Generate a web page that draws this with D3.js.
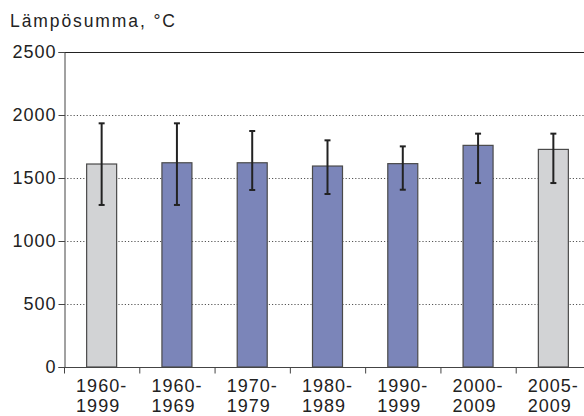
<!DOCTYPE html>
<html>
<head>
<meta charset="utf-8">
<script src="https://cdn.jsdelivr.net/npm/d3@7"></script>
<style>
  body { margin: 0; background: #fff; }
  text { font-family: "Liberation Sans", Arial, sans-serif; fill: #222; }
</style>
</head>
<body>
<div id="chart"></div>
<script>
// periods (two lines of label each)
var periodStart = ["1960-", "1960-", "1970-", "1980-", "1990-", "2000-", "2005-"];
var periodEnd = ["1999", "1969", "1979", "1989", "1999", "2009", "2009"];
var sums = [1611, 1621, 1621, 1595, 1614, 1759, 1727];
var errHigh = [1934, 1934, 1873, 1799, 1751, 1852, 1852];
var errLow = [1286, 1286, 1405, 1373, 1407, 1460, 1460];
var isGray = [true, false, false, false, false, false, true];
var yTicks = [0, 500, 1000, 1500, 2000, 2500];

var width = 584;
var height = 416;
var margin = { top: 52, right: -7, bottom: 49, left: 64 };

var cats = periodStart.map((d, i) => d + periodEnd[i]);
var data = cats.map(function (c, i) {
  return { cat: c, a: periodStart[i], b: periodEnd[i], v: sums[i], hi: errHigh[i], lo: errLow[i], gray: isGray[i] };
});

var x = d3.scaleBand().domain(cats).range([margin.left, width - margin.right]);
var y = d3.scaleLinear().domain([0, 2500]).range([height - margin.bottom, margin.top]);

var svg = d3.select("#chart").append("svg").attr("width", width).attr("height", height);

// title
svg.append("text").attr("x", 10).attr("y", 27)
  .style("font-size", "17.5px").style("letter-spacing", "1.9px")
  .text("Lämpösumma, °C");

// grid lines
svg.append("g")
  .selectAll("line")
  .data(yTicks.filter((t) => t > 0 && t < 2500))
  .join("line")
  .attr("x1", margin.left)
  .attr("x2", width)
  .attr("y1", (d) => Math.round(y(d)) + 0.5)
  .attr("y2", (d) => Math.round(y(d)) + 0.5)
  .attr("stroke", "#555")
  .attr("stroke-dasharray", "1.2,2");

// top frame line
svg.append("line")
  .attr("x1", margin.left).attr("x2", width)
  .attr("y1", Math.round(y(2500)) + 0.5).attr("y2", Math.round(y(2500)) + 0.5)
  .attr("stroke", "#222").attr("stroke-width", 1.2);

// bars
var bw = 30;
svg.append("g")
  .selectAll("rect")
  .data(data)
  .join("rect")
  .attr("x", (d) => x(d.cat) + x.bandwidth() / 2 - bw / 2)
  .attr("y", (d) => y(d.v))
  .attr("width", bw)
  .attr("height", (d) => y(0) - y(d.v))
  .attr("fill", (d) => (d.gray ? "#d2d3d5" : "#7b85b9"))
  .attr("stroke", "#4a4a4a")
  .attr("stroke-width", 1.2);

// error bars
var eb = svg.append("g").attr("stroke", "#222");
eb.selectAll("line.v")
  .data(data)
  .join("line")
  .attr("class", "v")
  .attr("x1", (d) => x(d.cat) + x.bandwidth() / 2)
  .attr("x2", (d) => x(d.cat) + x.bandwidth() / 2)
  .attr("y1", (d) => y(d.hi))
  .attr("y2", (d) => y(d.lo))
  .attr("stroke-width", 2);
["hi", "lo"].forEach(function (k) {
  eb.selectAll("line.c" + k)
    .data(data)
    .join("line")
    .attr("class", "c" + k)
    .attr("x1", (d) => x(d.cat) + x.bandwidth() / 2 - 3)
    .attr("x2", (d) => x(d.cat) + x.bandwidth() / 2 + 3)
    .attr("y1", (d) => y(d[k]))
    .attr("y2", (d) => y(d[k]))
    .attr("stroke-width", 2);
});

// y axis
function yAxis(g) {
  g.attr("transform", `translate(${margin.left + 0.5}, 0)`)
    .call(d3.axisLeft(y).tickValues(yTicks).tickFormat(d3.format("d")).tickSize(6).tickPadding(2))
    .call((g) => g.select(".domain").attr("stroke", "#444"))
    .call((g) => g.selectAll(".tick line").attr("stroke", "#444"))
    .call((g) => g.selectAll("text").style("font-size", "18px").style("letter-spacing", "1px").attr("fill", "#222"));
}
svg.append("g").attr("class", "yAxis").call(yAxis);

// x axis
var xa = svg.append("g").attr("transform", `translate(0, ${Math.round(y(0)) + 0.5})`);
xa.append("line").attr("x1", margin.left).attr("x2", width).attr("stroke", "#444");
xa.selectAll("line.tk")
  .data(cats)
  .join("line")
  .attr("class", "tk")
  .attr("x1", (d) => x(d) + 0.5)
  .attr("x2", (d) => x(d) + 0.5)
  .attr("y1", 0)
  .attr("y2", 6)
  .attr("stroke", "#444");

// labels, second line left aligned with first
var labels = svg.append("g")
  .selectAll("text")
  .data(data)
  .join("text")
  .style("font-size", "18px")
  .style("letter-spacing", "1px");
labels.append("tspan").attr("class", "l1").attr("y", 392).text((d) => d.a);
labels.append("tspan").attr("class", "l2").attr("y", 412).text((d) => d.b);
labels.each(function (d) {
  var t = d3.select(this);
  var w = t.select(".l1").node().getComputedTextLength();
  var left = x(d.cat) + x.bandwidth() / 2 - w / 2;
  t.select(".l1").attr("x", left);
  t.select(".l2").attr("x", left);
});
</script>
</body>
</html>
